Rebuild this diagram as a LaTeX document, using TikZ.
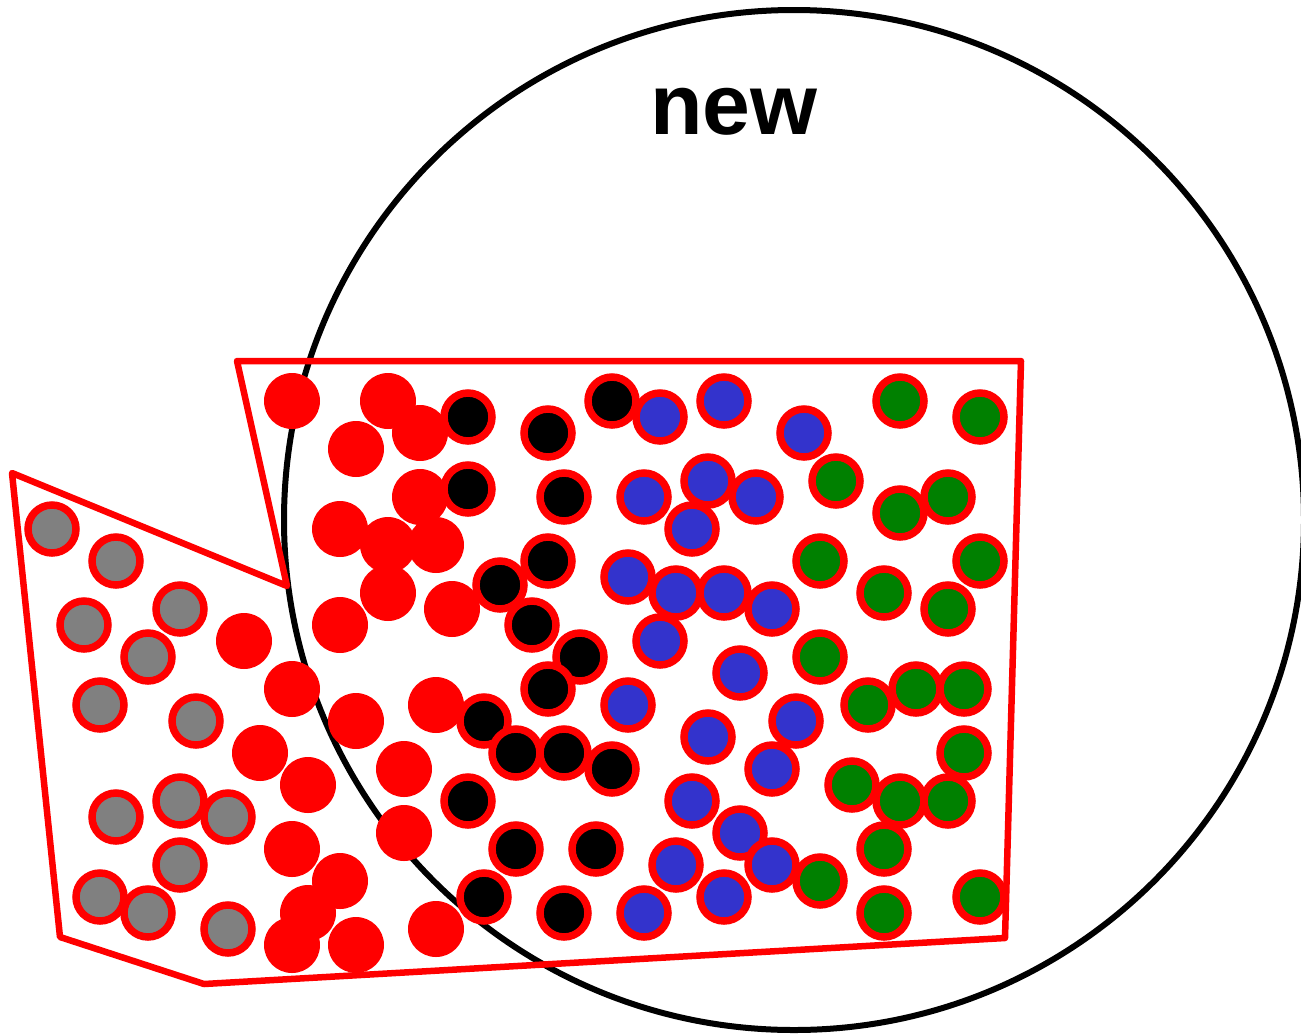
\documentclass[tikz,border=0pt]{standalone}
\usepackage{fontspec}
\setmainfont{Liberation Sans}
\usepackage{xcolor}
\usepackage{tikz}

\definecolor{ballblue}{RGB}{51,51,204}
\definecolor{ballgreen}{RGB}{0,128,0}
\definecolor{ballgray}{RGB}{128,128,128}

\tikzset{
  solidball/.style={fill=red},
  ringball/.style={draw=red,line width=7.5pt},
}

\begin{document}
\begin{tikzpicture}[x=1pt,y=-1pt]
\useasboundingbox (0,0) rectangle (1301,1034);

% Big circle
\draw[line width=6pt] (794,520) circle[radius=510pt];
\node[font=\bfseries\fontsize{86}{100}\selectfont,anchor=base,inner sep=0pt] (newlabel) at (734,134) {new};

% Outline around the balls
\draw[red,line width=6.5pt,line join=round] (237,361) -- (1021,361) -- (1005,938) -- (204,984)
  -- (60,937) -- (12,473) -- (287,586) -- cycle;

% Red balls
\foreach \x/\y in {292/401,388/401,420/433,356/449,420/497,340/529,388/545,436/545,
  388/593,452/609,340/625,244/641,292/689,356/721,436/705,260/753,404/769,308/785,
  404/833,292/849,340/881,308/913,292/945,356/945,436/929}
  \fill[solidball] (\x,\y) circle[radius=28pt];

% Gray balls
\foreach \x/\y in {52/529,116/561,84/625,180/609,148/657,100/705,196/721,116/817,
  180/801,228/817,180/865,100/897,148/913,228/929}
  \draw[ringball,fill=ballgray] (\x,\y) circle[radius=24pt];

% Black balls
\foreach \x/\y in {468/417,548/433,612/401,468/489,564/497,548/561,500/585,532/625,
  580/657,548/689,484/721,516/753,564/753,612/769,468/801,516/849,596/849,484/897,564/913}
  \draw[ringball,fill=black] (\x,\y) circle[radius=24pt];

% Blue balls
\foreach \x/\y in {660/417,724/401,804/433,644/497,708/481,756/497,692/529,628/577,
  676/593,724/593,772/609,660/641,740/673,628/705,708/737,796/721,772/769,692/801,
  740/833,676/865,772/865,724/897,644/913}
  \draw[ringball,fill=ballblue] (\x,\y) circle[radius=24pt];

% Green balls
\foreach \x/\y in {900/401,980/417,836/481,948/497,900/513,820/561,980/561,884/593,
  948/609,820/657,868/705,916/689,964/689,964/753,852/785,900/801,948/801,884/849,
  820/881,884/913,980/897}
  \draw[ringball,fill=ballgreen] (\x,\y) circle[radius=24pt];
\end{tikzpicture}
\end{document}
